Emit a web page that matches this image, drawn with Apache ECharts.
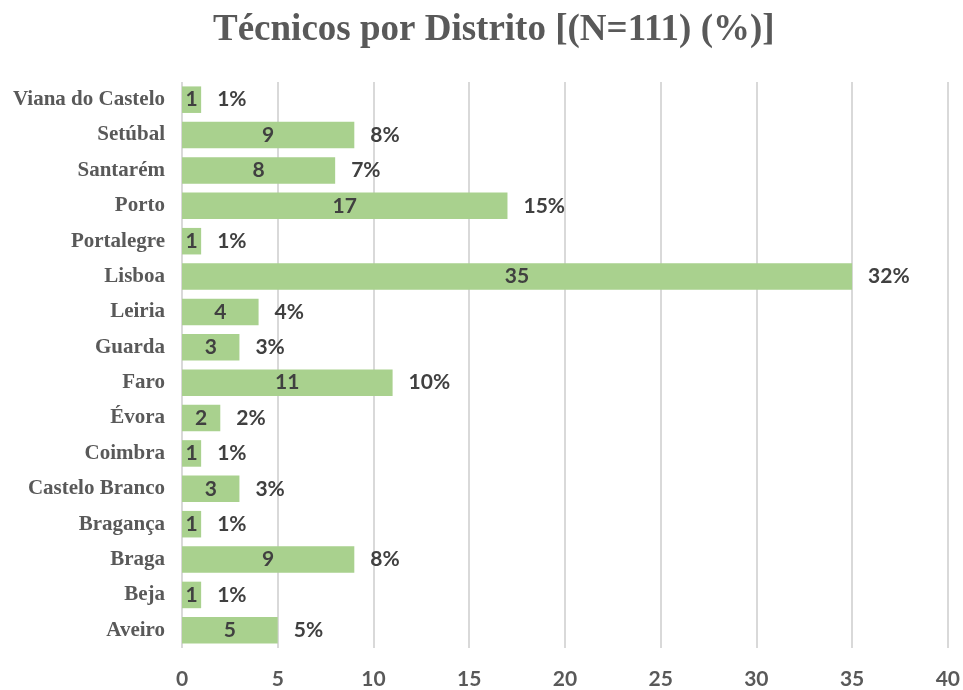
<!DOCTYPE html>
<html>
<head>
<meta charset="utf-8">
<script src="https://cdn.jsdelivr.net/npm/echarts@6/dist/echarts.min.js"></script>
<style>
  html, body { margin: 0; padding: 0; background: #fff; }
  #chart { width: 963px; height: 690px; }
</style>
</head>
<body>
<div id="chart"></div>
<script>
// bottom to top, as on the axis
const districts = ['Aveiro', 'Beja', 'Braga', 'Bragança', 'Castelo Branco', 'Coimbra', 'Évora', 'Faro',
  'Guarda', 'Leiria', 'Lisboa', 'Portalegre', 'Porto', 'Santarém', 'Setúbal', 'Viana do Castelo']
const counts = [5, 1, 9, 1, 3, 1, 2, 11, 3, 4, 35, 1, 17, 8, 9, 1]
const percents = [5, 1, 8, 1, 3, 1, 2, 10, 3, 4, 32, 1, 15, 7, 8, 1]
const xTicks = [0, 5, 10, 15, 20, 25, 30, 35, 40]

const chart = echarts.init(document.getElementById('chart'))

const options = {
  animation: false,
  title: {
    text: 'Técnicos por Distrito [(N=111) (%)]',
    left: 208,
    top: 7,
    textStyle: {
      fontFamily: 'Liberation Serif',
      fontWeight: 'bold',
      fontSize: 37,
      color: '#595959'
    }
  },
  grid: {
    left: 182,
    right: 11,
    top: 82,
    bottom: 41
  },
  xAxis: {
    type: 'value',
    min: xTicks[0],
    max: xTicks[xTicks.length - 1],
    interval: 5,
    axisLine: { show: false },
    axisTick: { show: false },
    splitLine: { show: true, lineStyle: { color: '#d9d9d9', width: 2 } },
    axisLabel: {
      margin: 21,
      fontFamily: 'Lato',
      fontWeight: 'bold',
      fontSize: 21,
      color: '#595959'
    }
  },
  yAxis: {
    type: 'category',
    data: districts,
    axisLine: { show: false },
    axisTick: { show: false },
    axisLabel: {
      margin: 17,
      fontFamily: 'Liberation Serif',
      fontWeight: 'bold',
      fontSize: 21,
      color: '#595959'
    }
  },
  series: [
    {
      type: 'bar',
      data: counts,
      barCategoryGap: '25%',
      itemStyle: { color: '#a9d18e' },
      label: {
        show: true,
        position: 'inside',
        fontFamily: 'Lato',
        fontWeight: 'bold',
        fontSize: 21,
        color: '#404040'
      }
    },
    {
      // percent labels, drawn right of each bar
      type: 'bar',
      data: counts,
      barGap: '-100%',
      barCategoryGap: '25%',
      itemStyle: { color: 'rgba(0,0,0,0)' },
      silent: true,
      label: {
        show: true,
        position: 'right',
        distance: 16,
        formatter: p => percents[p.dataIndex] + '%',
        fontFamily: 'Lato',
        fontWeight: 'bold',
        fontSize: 21,
        color: '#404040'
      }
    }
  ]
}

chart.setOption(options)
</script>
</body>
</html>
